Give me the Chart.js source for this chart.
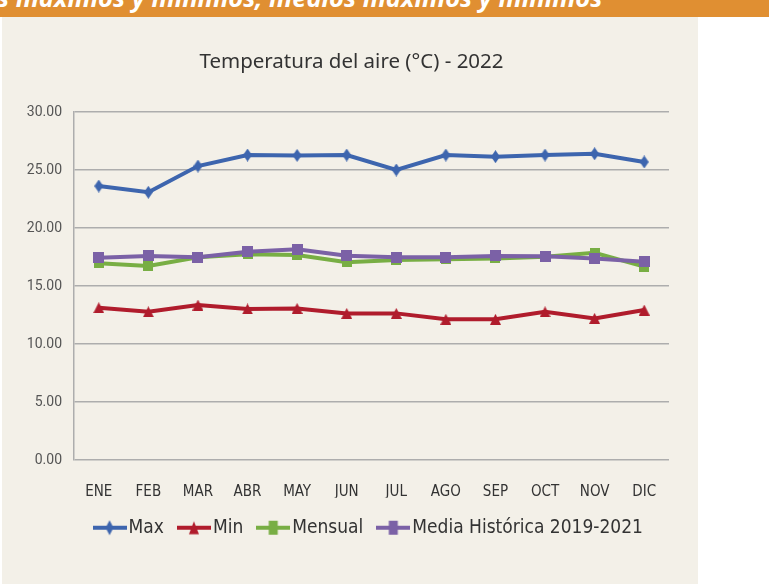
<!DOCTYPE html>
<html>
<head>
<meta charset="utf-8">
<script src="https://cdn.jsdelivr.net/npm/chart.js@4"></script>
<style>
body { margin: 0; background: #fff; width: 769px; height: 584px; overflow: hidden; position: relative; }
#band { position: absolute; left: 0; top: 0; width: 769px; height: 17px; background: #E08F32; overflow: hidden; }
#band span { position: absolute; left: -3px; top: -20px; color: #fff; font: italic bold 25.5px "Open Sans", sans-serif; white-space: nowrap; }
#panel { position: absolute; left: 2px; top: 17px; width: 696px; height: 567px; background: #F3F0E8; }
</style>
</head>
<body>
<div id="band"><span>s máximos y mínimos, medios máximos y mínimos</span></div>
<div id="panel"><canvas id="tempChart" width="696" height="567"></canvas></div>
<script>
// data
const months = ['ENE', 'FEB', 'MAR', 'ABR', 'MAY', 'JUN', 'JUL', 'AGO', 'SEP', 'OCT', 'NOV', 'DIC'];
const maxTemp = [23.62, 23.08, 25.34, 26.29, 26.26, 26.29, 25.00, 26.29, 26.15, 26.29, 26.40, 25.69];
const minTemp = [13.13, 12.78, 13.36, 13.02, 13.07, 12.64, 12.64, 12.13, 12.13, 12.78, 12.21, 12.93];
const mensual = [16.96, 16.72, 17.47, 17.73, 17.67, 17.04, 17.24, 17.30, 17.38, 17.53, 17.87, 16.67];
const mediaHist = [17.44, 17.59, 17.47, 17.96, 18.16, 17.61, 17.47, 17.47, 17.59, 17.56, 17.38, 17.09];
const seriesNames = ['Max', 'Min', 'Mensual', 'Media Histórica 2019-2021'];
const yTicks = [0, 5, 10, 15, 20, 25, 30];

const colors = ['#3D65AE', '#B01C2C', '#78AE44', '#7B61A6'];
const condensed = '"DejaVu Sans Condensed", "Liberation Sans Narrow", sans-serif';

function drawShape(g, shape, cx, cy, w, h) {
    g.beginPath();
    if (shape === 'diamond') {
        g.moveTo(cx, cy - h / 2);
        g.lineTo(cx + w / 2, cy);
        g.lineTo(cx, cy + h / 2);
        g.lineTo(cx - w / 2, cy);
    } else if (shape === 'triangle') {
        g.moveTo(cx, cy - h / 2);
        g.lineTo(cx + w / 2, cy + h / 2);
        g.lineTo(cx - w / 2, cy + h / 2);
    } else {
        g.rect(cx - w / 2, cy - h / 2, w, h);
    }
    g.closePath();
    g.fill();
}

function marker(shape, color, w, h) {
    var c = document.createElement('canvas');
    c.width = w; c.height = h;
    var g = c.getContext('2d');
    g.fillStyle = color;
    drawShape(g, shape, w / 2, h / 2, w, h);
    return c;
}

// legend swatch: a short line with the marker squeezed in the middle
function legendIcon(shape, color, w, h) {
    var c = document.createElement('canvas');
    c.width = 34; c.height = 16;
    var g = c.getContext('2d');
    g.fillStyle = color;
    g.fillRect(0, 6, 34, 4);
    drawShape(g, shape, 17, 8, w, h);
    return c;
}

const shapes = [['diamond', 9, 13], ['triangle', 11, 11], ['square', 10, 10], ['square', 11, 11]];
const iconShapes = [['diamond', 8, 15], ['triangle', 10, 13], ['square', 9, 14], ['square', 9, 14]];
const markers = shapes.map((s, i) => marker(s[0], colors[i], s[1], s[2]));
const icons = iconShapes.map((s, i) => legendIcon(s[0], colors[i], s[1], s[2]));

const series = [maxTemp, minTemp, mensual, mediaHist];
const drawOrder = [0, 0, 2, 1];

// nudge the title so it sits centred over the whole panel
const titleShift = {
    id: 'titleShift',
    afterLayout: function(chart) {
        chart.titleBlock.left += 9;
    }
};

var ctx = document.getElementById('tempChart');
var tempChart = new Chart(ctx, {
    type: 'line',
    data: {
        labels: months,
        datasets: series.map((vals, i) => ({
            label: seriesNames[i],
            data: vals,
            borderColor: colors[i],
            backgroundColor: colors[i],
            borderWidth: 4,
            pointStyle: markers[i],
            pointRadius: 6,
            tension: 0,
            fill: false,
            order: drawOrder[i]
        }))
    },
    options: {
        responsive: false,
        animation: false,
        events: [],
        layout: {
            padding: { left: 23, right: 29, top: 0, bottom: 36.8 }
        },
        scales: {
            x: {
                offset: true,
                grid: { display: false, drawTicks: false },
                border: { display: false },
                afterFit: function(scale) {
                    scale.height = 37.7;
                },
                ticks: {
                    padding: 23.5,
                    color: '#333',
                    font: { family: condensed, size: 15 }
                }
            },
            y: {
                min: 0,
                max: 30,
                afterBuildTicks: function(scale) {
                    scale.ticks = yTicks.map(v => ({ value: v }));
                },
                afterFit: function(scale) {
                    scale.width = 49;
                },
                ticks: {
                    padding: 12,
                    color: '#555',
                    font: { family: 'Roboto, sans-serif', size: 14 },
                    callback: v => v.toFixed(2)
                },
                grid: { color: '#ADADAD', lineWidth: 1.5, drawTicks: false },
                border: { display: true, color: '#ADADAD', width: 1.5 }
            }
        },
        plugins: {
            tooltip: { enabled: false },
            title: {
                display: true,
                text: 'Temperatura del aire (°C) - 2022',
                color: '#333',
                font: { family: '"Noto Sans", sans-serif', size: 20.5, weight: 'normal' },
                padding: { top: 33, bottom: 37.4 }
            },
            legend: {
                position: 'bottom',
                fullSize: false,
                labels: {
                    usePointStyle: true,
                    pointStyleWidth: 19,
                    padding: 20.5,
                    color: '#333',
                    font: { family: condensed, size: 19 },
                    sort: (a, b) => a.datasetIndex - b.datasetIndex,
                    generateLabels: function(chart) {
                        var items = Chart.defaults.plugins.legend.labels.generateLabels(chart);
                        items.forEach(function(item) {
                            item.pointStyle = icons[item.datasetIndex];
                        });
                        return items;
                    }
                }
            }
        }
    },
    plugins: [titleShift]
});
</script>
</body>
</html>
